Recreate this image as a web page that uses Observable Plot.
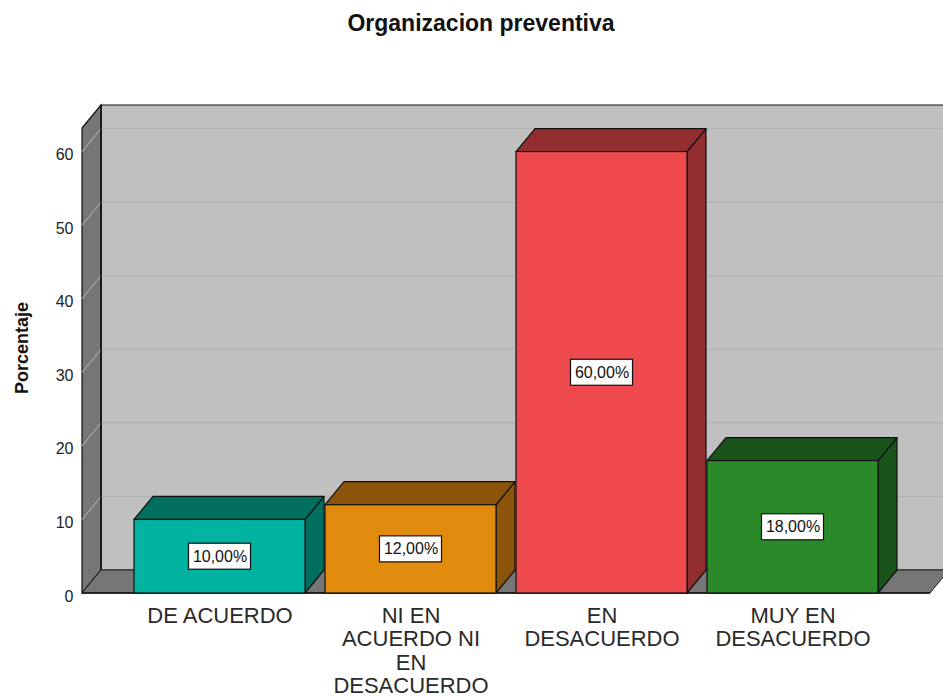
<!DOCTYPE html>
<html>
<head>
<meta charset="utf-8">
<script src="https://cdn.jsdelivr.net/npm/d3@7"></script>
<script src="https://cdn.jsdelivr.net/npm/@observablehq/plot@0.6"></script>
<style>
  html, body { margin: 0; padding: 0; background: #fff; overflow: hidden; }
  #title { height: 38px; padding-top: 12px; padding-left: 19px; text-align: center;
           font: bold 23px/23px "Liberation Sans", Arial, sans-serif; color: #111; }
  #chart svg { display: block; }
</style>
</head>
<body>
<div id="title">Organizacion preventiva</div>
<div id="chart"></div>
<script>
// ---- data ----
const categories = ["DE ACUERDO", "NI EN ACUERDO NI EN DESACUERDO", "EN DESACUERDO", "MUY EN DESACUERDO"];
const tickLabels = ["DE ACUERDO", "NI EN\nACUERDO NI\nEN\nDESACUERDO", "EN\nDESACUERDO", "MUY EN\nDESACUERDO"];
const values = [10, 12, 60, 18];
const valueLabels = ["10,00%", "12,00%", "60,00%", "18,00%"];
const yTicks = [0, 10, 20, 30, 40, 50, 60];
const yTitle = "Porcentaje";

// ---- styles ----
const frontColors = ["#00b2a0", "#e08a0e", "#ee4a4e", "#2a8a2a"];
const shadeColors = ["#006f60", "#8c540a", "#922d30", "#1a531a"];
const DX = 19, DY = -23;

const rows = categories.map((c, i) => ({cat: c, value: values[i], label: valueLabels[i], tick: tickLabels[i], half: values[i] / 2}));

function scene(index, scales) {
  const x = scales.x, y = scales.y;
  const bw = x.bandwidth();
  const [L, R] = x.range();
  const y0 = y(0), yT = y(y.domain()[1]);
  const P = pts => pts.map(p => p.join(",")).join(" ");
  const g = d3.create("svg:g");
  // back wall
  g.append("polygon").attr("points", P([[L+DX, yT+DY], [R+DX, yT+DY], [R+DX, y0+DY], [L+DX, y0+DY]]))
    .attr("fill", "#c0c0c0").attr("stroke", "#111").attr("stroke-width", 1.2);
  // left wall
  g.append("polygon").attr("points", P([[L, y0], [L, yT], [L+DX, yT+DY], [L+DX, y0+DY]]))
    .attr("fill", "#767676").attr("stroke", "#111").attr("stroke-width", 1.2);
  // grid lines
  for (const t of yTicks.filter(t => t > 0)) {
    g.append("line").attr("x1", L).attr("y1", y(t)).attr("x2", L+DX).attr("y2", y(t)+DY)
      .attr("stroke", "#a4a4a4").attr("stroke-width", 1.2);
    g.append("line").attr("x1", L+DX).attr("y1", y(t)+DY).attr("x2", R+DX).attr("y2", y(t)+DY)
      .attr("stroke", "#b2b2b2").attr("stroke-width", 1.5);
  }
  g.append("line").attr("x1", L+DX).attr("y1", yT+DY).attr("x2", L+DX).attr("y2", y0+DY)
    .attr("stroke", "#111").attr("stroke-width", 1.5);
  // floor
  g.append("polygon").attr("points", P([[L, y0], [R, y0], [R+DX, y0+DY], [L+DX, y0+DY]]))
    .attr("fill", "#767676").attr("stroke", "#222").attr("stroke-width", 1);
  g.append("line").attr("x1", L).attr("y1", y0).attr("x2", R).attr("y2", y0)
    .attr("stroke", "#111").attr("stroke-width", 1.5);
  // bars
  rows.forEach((d, i) => {
    const xl = x(d.cat), xr = xl + bw, yt = y(d.value);
    g.append("polygon").attr("points", P([[xr, yt], [xr+DX, yt+DY], [xr+DX, y0+DY], [xr, y0]]))
      .attr("fill", shadeColors[i]).attr("stroke", "#111").attr("stroke-width", 1.2).attr("stroke-linejoin", "round");
    g.append("polygon").attr("points", P([[xl, yt], [xr, yt], [xr+DX, yt+DY], [xl+DX, yt+DY]]))
      .attr("fill", shadeColors[i]).attr("stroke", "#111").attr("stroke-width", 1.2).attr("stroke-linejoin", "round");
    g.append("rect").attr("x", xl).attr("y", yt).attr("width", bw).attr("height", y0 - yt)
      .attr("fill", frontColors[i]).attr("stroke", "#111").attr("stroke-width", 1.2);
    // label box
    const cx = xl + bw / 2, cy = y(d.half);
    g.append("rect").attr("x", cx - 31).attr("y", cy - 13).attr("width", 62).attr("height", 26)
      .attr("fill", "#fff").attr("stroke", "#111").attr("stroke-width", 1.2);
  });
  return g.node();
}

const chart = Plot.plot({
  width: 943,
  height: 647,
  marginLeft: 82,
  marginRight: 13,
  marginTop: 78,
  marginBottom: 104,
  style: {fontFamily: "Liberation Sans, Arial, sans-serif", fontSize: "16px", background: "#fff", color: "#222"},
  x: {type: "band", domain: categories, paddingInner: 0.105, paddingOuter: 0.272, axis: null},
  y: {domain: [0, 63.2], axis: null},
  marks: [
    scene,
    Plot.text(rows, {x: "cat", y: "half", text: "label", fill: "#111", fontSize: 16}),
    Plot.text(rows, {x: "cat", y: () => 0, text: "tick", lineAnchor: "top", dy: 13, fontSize: 22, lineHeight: 1.06, fill: "#2a2a2a"}),
    Plot.text(yTicks, {y: d => d, text: d => String(d), frameAnchor: "left", textAnchor: "end", dx: -9, dy: 3, fontSize: 16, fill: "#222"}),
    Plot.text([yTitle], {text: d => d, frameAnchor: "left", textAnchor: "middle", lineAnchor: "middle", rotate: -90, dx: -60, dy: -13, fontSize: 18, fontWeight: "bold", fill: "#111"})
  ]
});
document.getElementById("chart").appendChild(chart);
</script>
</body>
</html>
